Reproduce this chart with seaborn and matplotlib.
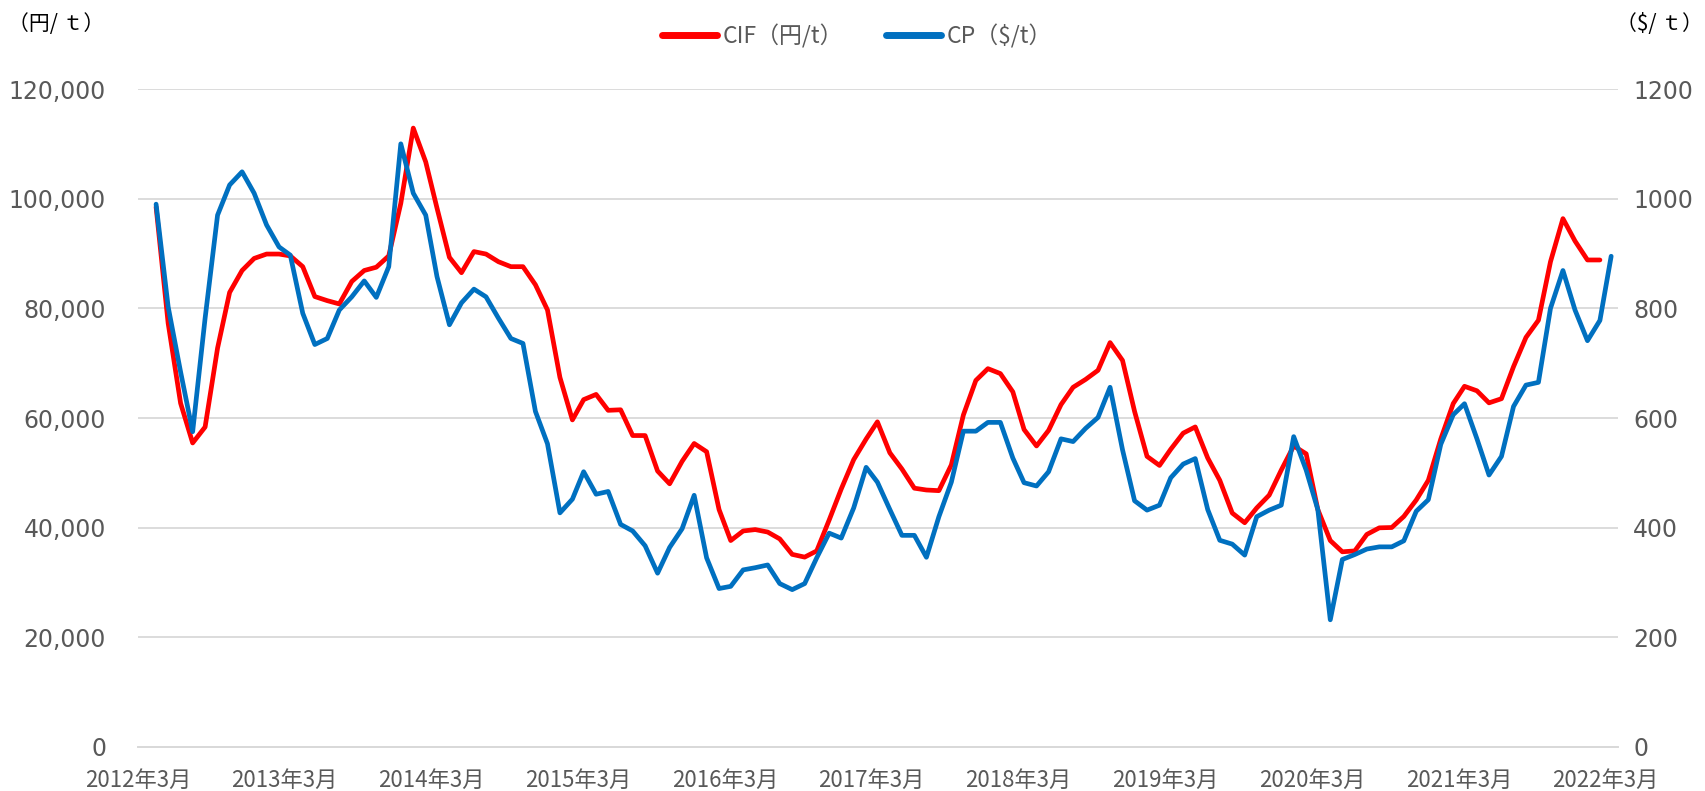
import matplotlib
matplotlib.use("Agg")
import matplotlib.pyplot as plt
import matplotlib.ticker as mticker
from matplotlib.lines import Line2D
import seaborn as sns
import pandas as pd

# monthly data, Apr 2012 .. Mar 2022 (CIF stops one month earlier)
cif_yen = [
    98500, 77300, 62700, 55450, 58360, 72750, 82900, 86900, 89100, 89900,
    89900, 89560, 87600, 82150, 81400, 80800, 84900, 86900, 87500, 89560,
    99150, 112870, 106700, 98300, 89300, 86500, 90350, 89900, 88500, 87600,
    87600, 84300, 79700, 67400, 59650, 63350, 64300, 61400, 61500, 56800,
    56800, 50330, 48000, 52100, 55350, 53850, 43300, 37650, 39400, 39650,
    39200, 37950, 35130, 34630, 35760, 41400, 47050, 52400, 56170, 59300,
    53650, 50700, 47200, 46870, 46750, 51450, 60550, 66850, 69000, 68100,
    64770, 57900, 54900, 57740, 62450, 65600, 67030, 68700, 73750, 70500,
    61200, 53000, 51350, 54300, 57240, 58370, 52700, 48640, 42670, 40900,
    43600, 45930, 50500, 54900, 53470, 43300, 37650, 35600, 35760, 38770,
    39970, 40030, 42040, 45050, 48640, 56170, 62640, 65780, 64960, 62760,
    63520, 69360, 74700, 77830, 88500, 96360, 92280, 88820, 88820,
]
cp_usd = [
    990, 803, 684, 575, 782, 970, 1025, 1049, 1010, 952,
    912, 897, 791, 734, 745, 797, 821, 850, 820, 876,
    1100, 1010, 970, 858, 770, 810, 835, 821, 782, 745,
    736, 612, 553, 427, 452, 502, 461, 466, 406, 394,
    367, 317, 364, 398, 459, 345, 289, 293, 323, 327,
    332, 298, 287, 298, 345, 390, 381, 436, 510, 483,
    433, 386, 386, 346, 420, 483, 576, 576, 592, 592,
    527, 482, 476, 502, 562, 557, 581, 601, 656, 542,
    449, 432, 441, 491, 516, 526, 433, 377, 370, 350,
    420, 432, 441, 566, 505, 433, 232, 342, 351, 361,
    365, 365, 376, 430, 451, 552, 606, 626, 562, 496,
    530, 621, 660, 665, 800, 869, 797, 741, 778, 895,
]

months = pd.date_range("2012-04-01", periods=len(cp_usd), freq="MS") + pd.Timedelta(days=14)
cif = pd.DataFrame({"month": months[:len(cif_yen)], "value": cif_yen})
cp = pd.DataFrame({"month": months, "value": cp_usd})

tick_dates = pd.date_range("2012-03-01", "2022-03-01", freq="12MS")
tick_labels = [f"{d.year}年{d.month}月" for d in tick_dates]

RED = "#FF0000"
BLUE = "#0070C0"
GREY = "#595959"
GRID = "#D9D9D9"

sns.set_style("white")
plt.rcParams["font.family"] = ["DejaVu Sans", "Noto Sans CJK JP"]

fig = plt.figure(figsize=(17.05, 7.91), dpi=100)
ax = fig.add_axes([138 / 1705, 1 - 747 / 791, (1618 - 138) / 1705, (747 - 89) / 791])
ax2 = ax.twinx()

sns.lineplot(data=cif, x="month", y="value", ax=ax, color=RED, linewidth=3.4)
sns.lineplot(data=cp, x="month", y="value", ax=ax2, color=BLUE, linewidth=3.4)

ax.set_ylim(0, 120000)
ax2.set_ylim(0, 1200)
ax.set_yticks(range(0, 120001, 20000))
ax2.set_yticks(range(0, 1201, 200))
ax.yaxis.set_major_formatter(mticker.FuncFormatter(lambda v, p: f"{v:,.0f}"))
ax.set_xlim(pd.Timestamp("2012-03-01"), pd.Timestamp("2022-04-01"))
ax.set_xticks(tick_dates)
ax.set_xticklabels(tick_labels, family=["Noto Sans CJK JP"], fontsize=16, color=GREY)

ax.grid(axis="y", color=GRID, linewidth=1.3)
ax.set_axisbelow(True)
for a in (ax, ax2):
    a.set_xlabel("")
    a.set_ylabel("")
    for s in ("left", "right", "top"):
        a.spines[s].set_visible(False)
    a.spines["bottom"].set_color(GRID)
    a.spines["bottom"].set_linewidth(1.3)

ax.tick_params(axis="y", length=0, pad=23, labelsize=17, labelcolor=GREY)
ax2.tick_params(axis="y", length=0, pad=11, labelsize=17, labelcolor=GREY)
ax.tick_params(axis="x", length=5, width=1.2, color="#BFBFBF", pad=11)

fig.text(8 / 1705, 1 - 24 / 791, "（円/ ｔ）", family=["Noto Sans CJK JP"], fontsize=15,
         color="black", va="center", ha="left")
fig.text(1703 / 1705, 1 - 24 / 791, "（$/ ｔ）", family=["Noto Sans CJK JP"], fontsize=15,
         color="black", va="center", ha="right")

handles = [Line2D([], [], color=RED, linewidth=5, solid_capstyle="round"),
           Line2D([], [], color=BLUE, linewidth=5, solid_capstyle="round")]
fig.legend(handles, ["CIF（円/t）", "CP（$/t）"], loc="center", ncol=2,
           bbox_to_anchor=(857 / 1705, 1 - 36 / 791), frameon=False,
           prop={"family": ["Noto Sans CJK JP"], "size": 16.5}, labelcolor=GREY,
           handlelength=2.4, handletextpad=0.25, columnspacing=1.9)

fig.savefig("out.png", dpi=100)
